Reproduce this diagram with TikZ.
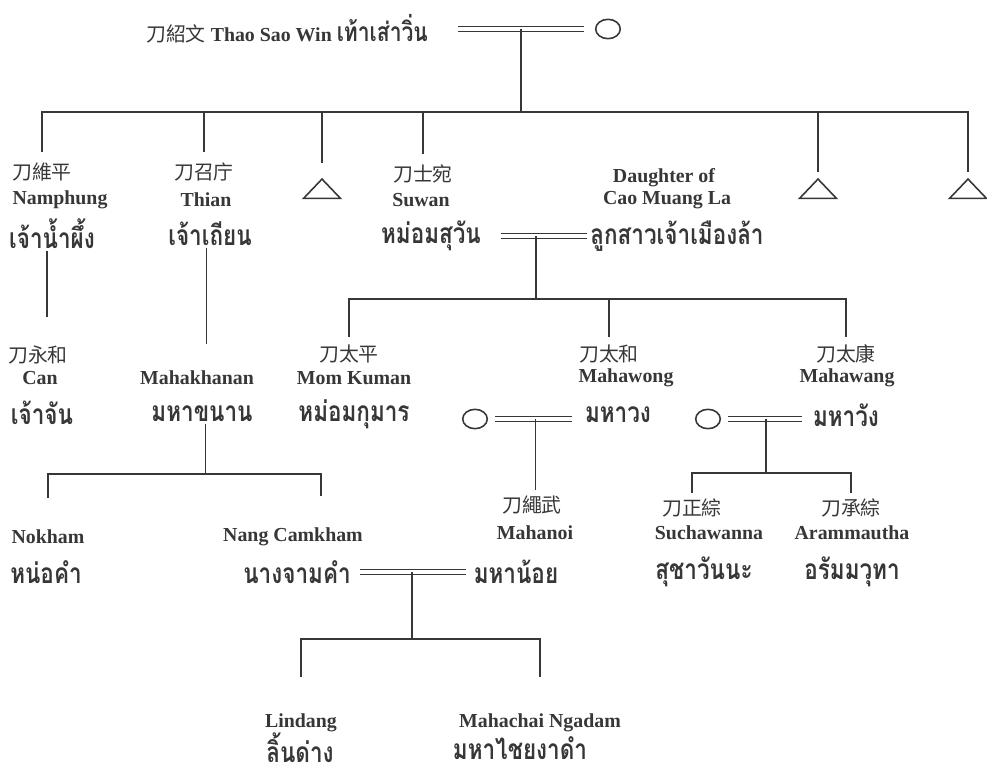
\documentclass[tikz,border=0pt]{standalone}
\usepackage{fontspec}
\setmainfont{Liberation Serif}
\newfontfamily\thaifont[Script=Thai, FakeStretch=0.8]{Loma}
\newfontfamily\cjkfont{Noto Sans CJK SC}
\usetikzlibrary{shapes.geometric}
\definecolor{ink}{RGB}{55,55,55}
\tikzstyle{hanzi}=[font=\cjkfont\fontsize{11.3}{13}\selectfont, text=ink, inner sep=1pt]
\tikzstyle{latin}=[font=\bfseries\fontsize{11.3}{13}\selectfont, text=ink, inner sep=1pt]
\tikzstyle{thai}=[font=\thaifont\bfseries\fontsize{16}{18}\selectfont, text=ink, inner sep=1pt]
\tikzstyle{wife}=[ellipse, draw=ink, line width=0.9pt, minimum width=14pt, minimum height=11pt, inner sep=0pt]
\tikzstyle{unknown}=[isosceles triangle, isosceles triangle stretches, shape border rotate=90, draw=ink, line width=0.9pt, inner sep=0pt, minimum width=21pt, minimum height=11pt]
\tikzstyle{line}=[draw=ink, line width=1pt]
\tikzstyle{marry}=[draw=ink, double, double distance=1.8pt, line width=0.9pt]

\begin{document}
\begin{tikzpicture}[x=0.2mm, y=-0.2mm]
    \useasboundingbox (0,0) rectangle (987,775);

    \node[latin, anchor=east] (thaowin) at (430,29) {{\cjkfont\mdseries 刀紹文} Thao Sao Win {\thaifont\fontsize{15}{16}\selectfont เท้าเส่าวิ่น}};
    \node[wife] (wife0) at (608,29) {};
    \node[wife] (wife2) at (475,419) {};
    \node[wife] (wife3) at (708,419) {};

    \foreach \x/\name in {322/tri1, 818/tri2, 968/tri3}
        \node[unknown, anchor=apex] (\name) at (\x,177) {};

    \foreach \x/\y/\name/\txt in {42/172/cnamphung/刀維平, 204/172/cthian/刀召庁, 423/174/csuwan/刀士宛,
        38/355/ccan/刀永和, 349/354/ckuman/刀太平, 609/354/cmahawong/刀太和, 846/354/cmahawang/刀太康,
        532/505/cmahanoi/刀繩武, 692/508/csucha/刀正綜, 851/508/caramma/刀承綜}
        \node[hanzi] (\name) at (\x,\y) {\txt};

    \foreach \x/\y/\name/\txt in {60/200/enamphung/Namphung, 206/200/ethian/Thian, 421/200/esuwan/Suwan,
        664/178/edaughter/Daughter of, 667/200/ecaomuang/Cao Muang La,
        40/378/ecan/Can, 197/378/ekhanan/Mahakhanan, 354/378/ekuman/Mom Kuman,
        626/378/emahawong/Mahawong, 847/378/emahawang/Mahawang,
        48/537/enokham/Nokham, 293/537/ecamkham/Nang Camkham, 535/533/emahanoi/Mahanoi,
        709/533/esucha/Suchawanna, 852/533/earamma/Arammautha,
        301/723/elindang/Lindang, 540/723/emahachai/Mahachai Ngadam}
        \node[latin] (\name) at (\x,\y) {\txt};

    \foreach \x/\y/\name/\txt in {52/234/tnamphung/เจ้าน้ำผึ้ง, 210/234/tthian/เจ้าเถียน, 431/236/tsuwan/หม่อมสุวัน,
        677/236/tcaomuang/ลูกสาวเจ้าเมืองล้า, 42/413/tcan/เจ้าจัน, 202/414/tkhanan/มหาขนาน,
        354/414/tkuman/หม่อมกุมาร, 618/415/tmahawong/มหาวง, 846/415/tmahawang/มหาวัง,
        46/572/tnokham/หน่อคำ, 297/572/tcamkham/นางจามคำ, 516/572/tmahanoi/มหาน้อย,
        704/572/tsucha/สุชาวันนะ, 852/572/taramma/อรัมมวุทา,
        300/748/tlindang/ลิ้นด่าง, 520/748/tmahachai/มหาไชยงาดำ}
        \node[thai] (\name) at (\x,\y) {\txt};

    % Thao Sao Win
    \draw[marry, shorten <=16pt, shorten >=6pt] (thaowin.east) -- coordinate[pos=0.55] (m0) (wife0.west);
    \draw[line] (m0) -- ++(0,83) coordinate (fam0);
    \foreach \c/\gap in {cnamphung/5pt, cthian/5pt, tri1/8pt, csuwan/5pt, tri2/3pt, tri3/3pt}
        \draw[line, shorten >=\gap] (fam0) -| (\c.north);

    \draw[line, shorten >=15pt] ([xshift=-3pt]tnamphung.south) -- ([xshift=-3pt]tnamphung.south |- ccan.north);
    \draw[line, shorten >=14pt] ([xshift=-2pt]tthian.south) -- ([xshift=-2pt]tthian.south |- ekhanan.north);

    % Suwan
    \draw[marry, shorten <=10pt, shorten >=1pt] (tsuwan.east) -- coordinate[midway] (m1) (tsuwan.east -| tcaomuang.west);
    \draw[line] (m1) -- ++(0,63) coordinate (fam1);
    \foreach \c in {ckuman, cmahawong, cmahawang}
        \draw[line, shorten >=3pt] (fam1) -| (\c.north);

    % Mahakhanan
    \draw[line] ([xshift=2pt]tkhanan.south) -- ++(0,50) coordinate (fam2);
    \draw[line, shorten >=17pt] (fam2) -| (enokham.north);
    \draw[line, shorten >=17pt] (fam2) -| ([xshift=16pt]ecamkham.north);

    % Mahawong
    \draw[marry, shorten <=4pt, shorten >=6pt] (wife2.east) -- coordinate[midway] (m2) (wife2.east -| tmahawong.west);
    \draw[line, shorten >=2pt] (m2) -- (m2 |- cmahanoi.north);

    % Mahawang
    \draw[marry, shorten <=4pt, shorten >=5pt] (wife3.east) -- coordinate[midway] (m3) (wife3.east -| tmahawang.west);
    \draw[line] (m3) -- ++(0,54) coordinate (fam3);
    \foreach \c in {csucha, caramma}
        \draw[line, shorten >=2pt] (fam3) -| (\c.north);

    % Nang Camkham
    \draw[marry, shorten <=4pt, shorten >=3pt] (tcamkham.east) -- coordinate[midway] (m4) (tcamkham.east -| tmahanoi.west);
    \draw[line] (m4) -- ++(0,67) coordinate (fam4);
    \foreach \c in {elindang, emahachai}
        \draw[line, shorten >=20pt] (fam4) -| (\c.north);

\end{tikzpicture}
\end{document}
